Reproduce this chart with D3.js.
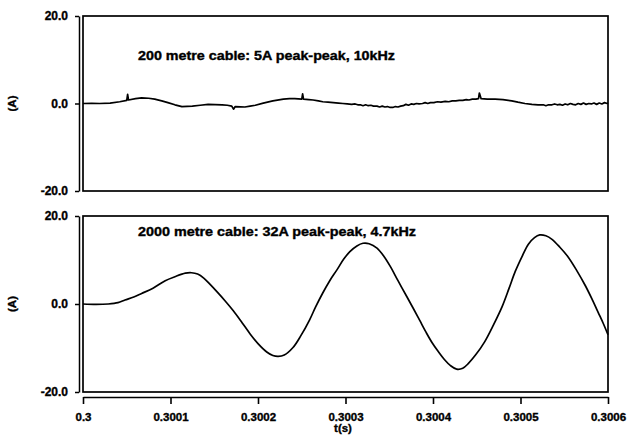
<!DOCTYPE html>
<html>
<head>
<meta charset="utf-8">
<script src="https://cdn.jsdelivr.net/npm/d3@7"></script>
<style>
  html, body { margin: 0; padding: 0; background: #fff; }
  svg { display: block; }
  text { font-family: "Liberation Sans", Arial, Helvetica, sans-serif; font-weight: bold; fill: #000; stroke: #000; stroke-width: 0.35px; }
</style>
</head>
<body>
<svg id="chart" width="631" height="442"></svg>
<script>
// Time axis is expressed as microseconds after t = 0.3 s
const timeTicks = [0, 100, 200, 300, 400, 500, 600];
const timeTickLabels = ["0.3", "0.3001", "0.3002", "0.3003", "0.3004", "0.3005", "0.3006"];
const currentTicks = [-20, 0, 20];
const currentTickLabels = ["-20.0", "0.0", "20.0"];

const titleShort = "200 metre cable: 5A peak-peak, 10kHz";
const titleLong = "2000 metre cable: 32A peak-peak, 4.7kHz";

// 200 m cable: time (µs) and current (A)
const tShort = [0,10,19,31,42,50,51,52,60,67,75,82,90,97,105,113,119,125,134,143,151,159,165,170,172,174,180,185,191,197,206,217,229,236,242,250,251,252,258,263,269,274,280,286,292,297,302,307,311,314,317,320,323,326,329,332,336,339,342,345,348,351,354,357,360,363,366,369,372,375,378,381,384,388,391,394,397,401,405,409,414,418,422,426,430,434,438,441,445,449,452,453,455,462,471,480,490,497,505,513,520,526,529,532,536,539,542,545,548,551,554,557,560,563,566,569,572,575,578,581,584,587,590,593,596,599,600];
const iShort = [0,0.05,0,0.1,0.4,0.7,2.1,0.8,1.1,1.3,1.2,1.0,0.6,0.2,-0.3,-0.7,-0.65,-0.6,-0.4,-0.2,-0.25,-0.3,-0.4,-0.6,-1.3,-0.7,-0.75,-0.8,-0.6,-0.4,0.1,0.6,1.0,1.1,1.1,1.0,2.2,1.0,0.9,0.8,0.6,0.4,0.3,0.2,0.1,0.0,-0.1,-0.2,-0.1,-0.3,-0.3,-0.5,-0.3,-0.5,-0.4,-0.6,-0.6,-0.8,-0.6,-0.8,-0.7,-0.9,-0.9,-0.7,-0.8,-0.6,-0.5,-0.2,-0.4,-0.1,-0.2,0.0,-0.1,0.0,0.2,0.0,0.2,0.2,0.4,0.3,0.5,0.4,0.6,0.6,0.7,0.7,0.9,0.8,1.0,1.0,1.1,2.4,1.1,1.0,1.0,0.9,0.6,0.3,0.0,-0.2,-0.3,-0.3,-0.5,-0.3,-0.3,-0.1,-0.3,-0.2,-0.4,-0.1,-0.3,0.0,-0.2,-0.3,0.0,-0.2,0.1,-0.2,0.0,-0.1,0.1,-0.2,0.1,-0.1,0.2,0.0,0.1];

// 2000 m cable: time (µs) and current (A)
const tLong = [0,15,29,40,48,58,67,80,94,105,117,124,131,138,145,153,162,172,182,191,200,210,217,223,230,240,249,259,266,274,282,290,298,305,313,320,327,336,344,351,360,370,378,385,392,399,406,413,420,427,434,440,449,459,469,479,487,494,502,509,516,522,529,536,545,554,564,574,582,589,595,600];
const iLong = [0,-0.1,0,0.3,0.9,1.6,2.4,3.6,5.3,6.2,7.0,7.1,6.8,5.9,4.5,2.8,0.8,-1.6,-4.3,-6.8,-9.0,-10.9,-11.7,-11.9,-11.6,-9.9,-7.2,-3.6,-0.6,2.5,5.3,7.7,10.2,11.9,13.2,13.8,13.7,12.7,10.8,8.6,5.3,1.7,-1.2,-3.8,-6.4,-8.8,-10.8,-12.6,-14.0,-14.8,-14.6,-13.6,-11.5,-8.6,-4.8,-0.6,3.6,7.4,10.9,13.6,15.1,15.7,15.5,14.7,12.9,10.8,7.7,4.2,1.0,-2.0,-4.6,-7.0];

const svg = d3.select("#chart");
const plotLeft = 83, plotRight = 608, axisX = 79;

const x = d3.scaleLinear().domain([0, 600]).range([plotLeft, plotRight]);

const panels = [
  { top: 16, bottom: 191, t: tShort, v: iShort, title: titleShort, titleY: 60, titleLen: 257, curve: d3.curveLinear },
  { top: 216, bottom: 392, t: tLong, v: iLong, title: titleLong, titleY: 236, titleLen: 278, curve: d3.curveCatmullRom.alpha(0.5) }
];

panels.forEach(p => {
  const y = d3.scaleLinear().domain([-20, 20]).range([p.bottom, p.top]);

  // plot frame
  svg.append("rect")
    .attr("x", plotLeft).attr("y", p.top)
    .attr("width", plotRight - plotLeft).attr("height", p.bottom - p.top)
    .attr("fill", "none").attr("stroke", "#000").attr("stroke-width", 1.7);

  // current axis on the left
  const ya = svg.append("g")
    .attr("transform", `translate(${axisX},0)`)
    .call(d3.axisLeft(y)
      .tickValues(currentTicks)
      .tickFormat((d, i) => currentTickLabels[i])
      .tickSize(4).tickSizeOuter(0).tickPadding(7));
  ya.select(".domain").attr("stroke-width", 1.5);
  ya.selectAll(".tick line").attr("stroke-width", 1.5);
  ya.selectAll(".tick text").style("font-size", "12px").style("font-family", null);

  // unit label
  svg.append("text")
    .attr("transform", `translate(16,${y(0)}) rotate(-90)`)
    .attr("text-anchor", "middle")
    .style("font-size", "11.5px")
    .text("(A)");

  // panel title
  svg.append("text")
    .attr("x", 138).attr("y", p.titleY)
    .attr("textLength", p.titleLen).attr("lengthAdjust", "spacingAndGlyphs")
    .style("font-size", "12px")
    .text(p.title);

  // waveform
  const line = d3.line()
    .x((d, i) => x(p.t[i]))
    .y((d, i) => y(p.v[i]))
    .curve(p.curve);
  svg.append("path")
    .datum(p.v)
    .attr("d", line)
    .attr("fill", "none")
    .attr("stroke", "#000")
    .attr("stroke-width", 1.7)
    .attr("stroke-linejoin", "round");
});

// time axis under the lower panel
const xa = svg.append("g")
  .attr("transform", "translate(0,397)")
  .call(d3.axisBottom(x)
    .tickValues(timeTicks)
    .tickFormat((d, i) => timeTickLabels[i])
    .tickSize(7).tickSizeOuter(0).tickPadding(9));
xa.select(".domain").attr("stroke-width", 1.6);
xa.selectAll(".tick line").attr("stroke-width", 1.6);
xa.selectAll(".tick text").style("font-size", "11.5px").style("font-family", null);

svg.append("text")
  .attr("x", 343).attr("y", 432)
  .attr("text-anchor", "middle")
  .style("font-size", "11.5px")
  .text("t(s)");
</script>
</body>
</html>
